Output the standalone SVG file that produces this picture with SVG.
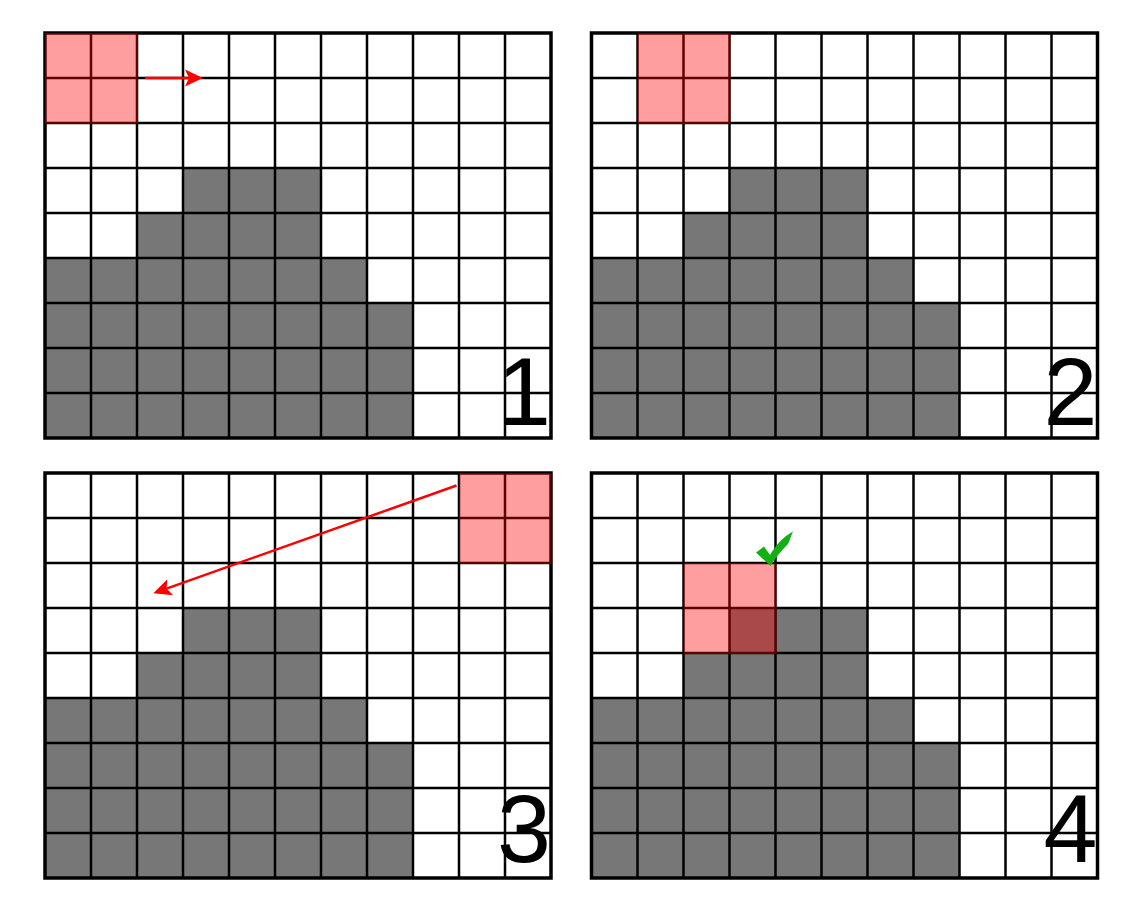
<svg xmlns="http://www.w3.org/2000/svg" xmlns:xlink="http://www.w3.org/1999/xlink" width="1138" height="911" viewBox="0 0 1138 911">
<style>
.bg{fill:#ffffff}
.solid{fill:#777777}
.gl{stroke:#000000;stroke-width:2.5;fill:none}
.border{stroke:#000000;stroke-width:3.5;fill:none}
.hl{fill:#ff0000;fill-opacity:0.38}
.num{font-family:"Liberation Sans",Arial,sans-serif;font-size:97px;fill:#000000;text-anchor:end}
.arrow{stroke:#ff0000;stroke-width:2.5;fill:none}
.check{fill:#12b012}
</style>
<defs>
<marker id="head" markerUnits="userSpaceOnUse" viewBox="0 -10 20 20" refX="4" refY="0" markerWidth="20" markerHeight="20" orient="auto">
<path d="M18,0 L0,-8.5 L4,0 L0,8.5 Z" fill="#ff0000"/>
</marker>
<g id="board">
<rect class="bg" x="0" y="0" width="506" height="405"/>
<path class="solid" d="M138,135 H276 V225 H322 V270 H368 V405 H0 V225 H92 V180 H138 Z"/>
<path class="gl" d="M46,0V405M92,0V405M138,0V405M184,0V405M230,0V405M276,0V405M322,0V405M368,0V405M414,0V405M460,0V405M0,45H506M0,90H506M0,135H506M0,180H506M0,225H506M0,270H506M0,315H506M0,360H506"/>
<rect class="border" x="0" y="0" width="506" height="405"/>
</g>
</defs>
<rect x="0" y="0" width="1138" height="911" fill="#ffffff"/>
<g id="panel1">
<use xlink:href="#board" href="#board" transform="translate(45,33)"/>
<rect class="hl" x="45" y="33" width="93" height="91"/>
<text class="num" x="551" y="425">1</text>
</g>
<g id="panel2">
<use xlink:href="#board" href="#board" transform="translate(591.5,33)"/>
<rect class="hl" x="637.5" y="33" width="93" height="91"/>
<text class="num" x="1097.5" y="425">2</text>
</g>
<g id="panel3">
<use xlink:href="#board" href="#board" transform="translate(45,473)"/>
<rect class="hl" x="459" y="473" width="92" height="91"/>
<text class="num" x="551" y="862">3</text>
</g>
<g id="panel4">
<use xlink:href="#board" href="#board" transform="translate(591.5,473)"/>
<rect class="hl" x="683.5" y="563" width="93" height="91"/>
<path class="check" d="M756,552.5 L764,546.5 L770,555 C776,545 783,537 793,531.5 C791,536 789.5,541 788,544 C781,551 775,558 770.5,566 Z"/>
<text class="num" x="1097.5" y="862">4</text>
</g>
<g id="connectors">
<line class="arrow" x1="145" y1="78" x2="189" y2="78" marker-end="url(#head)"/>
<line class="arrow" x1="456.5" y1="485.5" x2="166.5" y2="588.6" marker-end="url(#head)"/>
</g>
</svg>
